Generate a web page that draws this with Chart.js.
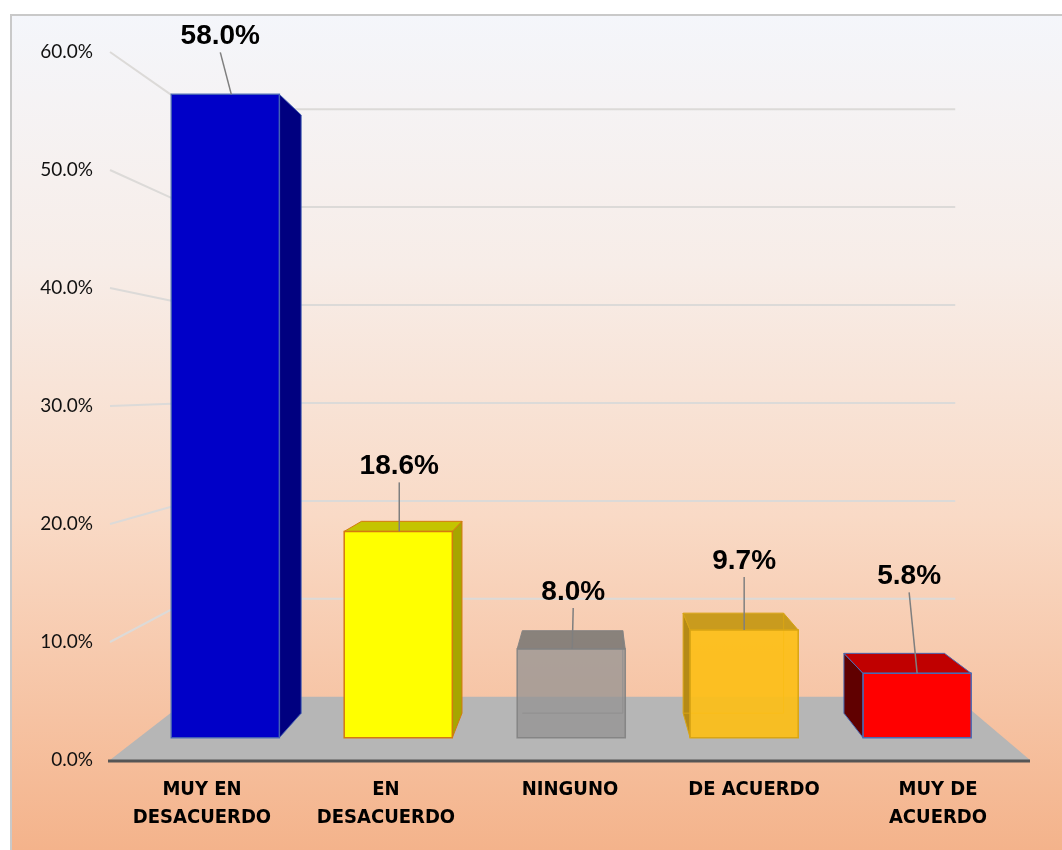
<!DOCTYPE html>
<html>
<head>
<meta charset="utf-8">
<script src="https://cdn.jsdelivr.net/npm/chart.js@4.4.1/dist/chart.umd.min.js"></script>
<style>
  body { margin: 0; background: #ffffff; }
  canvas { display: block; }
</style>
</head>
<body>
<canvas id="barChart" width="1062" height="850"></canvas>
<script>
// data
var categories = [["MUY EN", "DESACUERDO"], ["EN", "DESACUERDO"], "NINGUNO", "DE ACUERDO", ["MUY DE", "ACUERDO"]];
var percentValues = [58.0, 18.6, 8.0, 9.7, 5.8];
var yTicks = [0, 10, 20, 30, 40, 50, 60];

// styles for each bar: front, top, side, border
var barStyles = [
    { front: "#0000c8", top: "#00009a", side: "#000080", border: "rgba(70,100,180,0.9)", glass: false },
    { front: "#ffff00", top: "#c4c400", side: "#a6a600", border: "#d47a10", glass: false },
    { front: "rgba(147,146,145,0.75)", top: "rgba(118,116,114,0.85)", side: "rgba(120,118,116,0.8)", border: "rgba(130,130,130,0.9)", glass: true },
    { front: "rgba(252,190,24,0.93)", top: "#c99b1e", side: "#b58a16", border: "#d9a514", glass: true },
    { front: "#ff0000", top: "#c00000", side: "#600000", border: "#4a6ab4", glass: false }
];
// label offsets (dx, dy) from the top centre of each bar, and leader end dx
var labelOffsets = [[-5, -58, 6], [1, -65, 1], [2, -57, 1], [0, -69, 0], [-8, -97, 0]];

var S_FRONT = 0.94, S_BACK = 0.874, S_WALL = 0.83;

function vanish(ca) {
    return { x: ca.left + 0.522 * (ca.right - ca.left), y: ca.top + 0.475 * (ca.bottom - ca.top) };
}
function proj(v, x, y, s) {
    return [v.x + s * (x - v.x), v.y + s * (y - v.y)];
}
function poly(ctx, pts, fill, stroke, lw) {
    ctx.beginPath();
    ctx.moveTo(pts[0][0], pts[0][1]);
    for (var i = 1; i < pts.length; i++) ctx.lineTo(pts[i][0], pts[i][1]);
    ctx.closePath();
    if (fill) { ctx.fillStyle = fill; ctx.fill(); }
    if (stroke) { ctx.strokeStyle = stroke; ctx.lineWidth = lw || 1; ctx.stroke(); }
}

var scene3d = {
    id: "scene3d",
    beforeDraw: function (chart) {
        var ctx = chart.ctx;
        ctx.save();
        ctx.fillStyle = "#ffffff";
        ctx.fillRect(0, 0, chart.width, chart.height);
        var g = ctx.createLinearGradient(0, 14, 0, chart.height);
        g.addColorStop(0, "#f4f6fb");
        g.addColorStop(0.3, "#f7ede8");
        g.addColorStop(0.6, "#f9dac6");
        g.addColorStop(1, "#f4b38b");
        ctx.fillStyle = g;
        ctx.fillRect(10, 14, chart.width - 10, chart.height - 14);
        ctx.strokeStyle = "#c9c9c9";
        ctx.lineWidth = 2;
        ctx.beginPath();
        ctx.moveTo(11, chart.height);
        ctx.lineTo(11, 15);
        ctx.lineTo(chart.width, 15);
        ctx.stroke();
        ctx.restore();
    },
    beforeDatasetsDraw: function (chart) {
        var ctx = chart.ctx, ca = chart.chartArea, y = chart.scales.y;
        var v = vanish(ca);
        ctx.save();
        // perspective grid lines
        ctx.strokeStyle = "#dcdad8";
        ctx.lineWidth = 2;
        yTicks.forEach(function (t) {
            if (t === 0) return;
            var py = y.getPixelForValue(t);
            var b = proj(v, ca.left, py, S_WALL), c = proj(v, ca.right, py, S_WALL);
            ctx.beginPath();
            ctx.moveTo(ca.left, py);
            ctx.lineTo(b[0], b[1]);
            ctx.lineTo(c[0], c[1]);
            ctx.stroke();
        });
        // floor
        var p0 = y.getPixelForValue(0);
        var fl = proj(v, ca.left, p0, S_WALL), fr = proj(v, ca.right, p0, S_WALL);
        poly(ctx, [[ca.left, p0], fl, fr, [ca.right, p0]], "#b6b6b6");
        ctx.strokeStyle = "#555555";
        ctx.lineWidth = 3;
        ctx.beginPath();
        ctx.moveTo(ca.left - 2, p0 + 1);
        ctx.lineTo(ca.right, p0 + 1);
        ctx.stroke();
        ctx.restore();
    },
    afterDatasetsDraw: function (chart) {
        var ctx = chart.ctx, ca = chart.chartArea;
        var v = vanish(ca);
        var meta = chart.getDatasetMeta(0);
        ctx.save();
        meta.data.forEach(function (bar, i) {
            var st = barStyles[i];
            var L = bar.x - bar.width / 2, R = bar.x + bar.width / 2, T = bar.y, B = bar.base;
            var f = { tl: proj(v, L, T, S_FRONT), tr: proj(v, R, T, S_FRONT), bl: proj(v, L, B, S_FRONT), br: proj(v, R, B, S_FRONT) };
            var k = { tl: proj(v, L, T, S_BACK), tr: proj(v, R, T, S_BACK), bl: proj(v, L, B, S_BACK), br: proj(v, R, B, S_BACK) };
            if (k.tr[0] > f.tr[0]) poly(ctx, [f.tr, k.tr, k.br, f.br], st.side, st.border, 1);
            if (k.tl[0] < f.tl[0]) poly(ctx, [f.tl, k.tl, k.bl, f.bl], st.side, st.border, 1);
            if (k.tl[1] < f.tl[1]) poly(ctx, [f.tl, f.tr, k.tr, k.tl], st.top, st.border, 1);
            if (st.glass) {
                ctx.strokeStyle = st.border;
                ctx.lineWidth = 1;
                ctx.beginPath();
                ctx.moveTo(k.bl[0], k.bl[1]);
                ctx.lineTo(k.br[0], k.br[1]);
                ctx.lineTo(k.tr[0], k.tr[1]);
                ctx.stroke();
            }
            poly(ctx, [f.tl, f.tr, f.br, f.bl], st.front, st.border, 1.5);

            // value label with leader line
            var cx = (f.tl[0] + f.tr[0]) / 2, ty = f.tl[1];
            var off = labelOffsets[i];
            ctx.strokeStyle = "#7f7f7f";
            ctx.lineWidth = 1.5;
            ctx.beginPath();
            ctx.moveTo(cx + off[0], ty + off[1] + 16);
            ctx.lineTo(cx + off[2], ty);
            ctx.stroke();
            ctx.fillStyle = "#000000";
            ctx.font = "bold 28px 'Liberation Sans', Arial, sans-serif";
            ctx.textAlign = "center";
            ctx.textBaseline = "middle";
            ctx.fillText(percentValues[i].toFixed(1) + "%", cx + off[0], ty + off[1]);
        });
        ctx.restore();
    }
};

var chart = new Chart(document.getElementById("barChart"), {
    type: "bar",
    data: {
        labels: categories,
        datasets: [{
            data: percentValues,
            backgroundColor: "rgba(0,0,0,0)",
            borderWidth: 0,
            categoryPercentage: 1,
            barPercentage: 0.625
        }]
    },
    options: {
        responsive: false,
        animation: false,
        layout: { padding: { left: 10, right: 32, top: 52, bottom: 0 } },
        plugins: { legend: { display: false }, tooltip: { enabled: false } },
        scales: {
            x: {
                grid: { display: false, drawTicks: false },
                border: { display: false },
                ticks: {
                    color: "#000000",
                    padding: 16,
                    maxRotation: 0,
                    autoSkip: false,
                    font: { family: "'DejaVu Sans Condensed', 'Liberation Sans', sans-serif", size: 20, weight: "bold", lineHeight: 1.4 }
                },
                afterFit: function (s) { s.height = 90; }
            },
            y: {
                min: 0,
                max: 60,
                grid: { display: false, drawTicks: false },
                border: { display: false },
                ticks: {
                    stepSize: 10,
                    color: "#111111",
                    padding: 17,
                    font: { family: "Lato, 'Open Sans', sans-serif", size: 19 },
                    callback: function (val) { return val.toFixed(1) + "%"; }
                },
                afterFit: function (s) { s.width = 100; }
            }
        }
    },
    plugins: [scene3d]
});
</script>
</body>
</html>
